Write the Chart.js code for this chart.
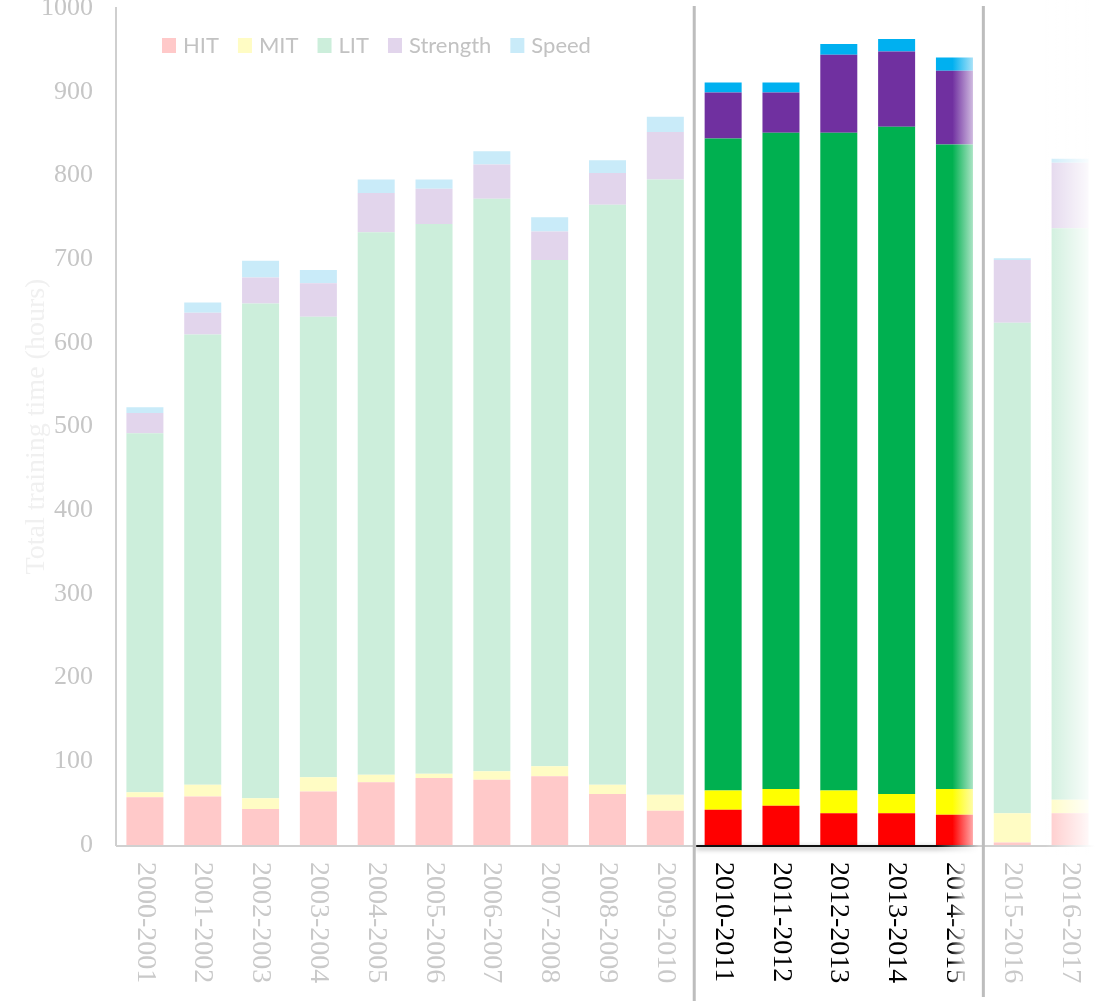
<!DOCTYPE html>
<html>
<head>
<meta charset="utf-8">
<script src="https://cdn.jsdelivr.net/npm/chart.js@4.4.1/dist/chart.umd.min.js"></script>
<style>
  html, body { margin: 0; padding: 0; background: #ffffff; }
  #c { display: block; }
</style>
</head>
<body>
<canvas id="c" width="1101" height="1001"></canvas>
<script>
// Training seasons on the x axis
const seasons = ['2000-2001','2001-2002','2002-2003','2003-2004','2004-2005','2005-2006',
  '2006-2007','2007-2008','2008-2009','2009-2010','2010-2011','2011-2012','2012-2013',
  '2013-2014','2014-2015','2015-2016','2016-2017'];

// Hours per season, by training type
const hit      = [57, 58, 43, 64, 75, 80, 78, 82, 61, 41, 42, 47, 38, 38, 36,  3, 38];
const mit      = [ 6, 14, 13, 17,  9,  5, 10, 12, 11, 19, 23, 20, 27, 23, 31, 35, 16];
const lit      = [429,538,591,550,648,657,684,605,693,735,779,784,786,797,770,586,683];
const strength = [24, 26, 31, 40, 47, 42, 41, 34, 38, 57, 55, 48, 93, 90, 88, 75, 78];
const speed    = [ 7, 12, 20, 16, 16, 11, 16, 17, 15, 18, 12, 12, 13, 15, 16,  2,  5];

const yTicks = [0, 100, 200, 300, 400, 500, 600, 700, 800, 900, 1000];

const seriesNames  = ['HIT', 'MIT', 'LIT', 'Strength', 'Speed'];
const seriesValues = [hit, mit, lit, strength, speed];
const strongColors = ['#FF0000', '#FFFF00', '#00B050', '#7030A0', '#00B0F0'];
const paleColors   = ['#FFC9C9', '#FFFCC4', '#CCEEDB', '#E2D5EC', '#C9EBF9'];

// Seasons shown in full colour (2010-2011 .. 2014-2015)
const focusFrom = 10, focusTo = 14;
const BAR_PCT = 0.64;

function fillFor(k) {
  return (c) => {
    const i = c.dataIndex;
    if (i === undefined) return strongColors[k];
    if (i < focusFrom || i > focusTo) return paleColors[k];
    if (i === focusTo) {
      const xs = c.chart.scales.x;
      if (!xs || !isFinite(xs.width) || xs.width <= 0) return strongColors[k];
      const step = xs.width / seasons.length;
      const cx = xs.getPixelForValue(i);
      const g = c.chart.ctx.createLinearGradient(cx - 2, 0, cx + step * BAR_PCT / 2 + 4, 0);
      g.addColorStop(0, strongColors[k]);
      g.addColorStop(1, paleColors[k]);
      return g;
    }
    return strongColors[k];
  };
}

const overlay = {
  id: 'overlay',
  afterDatasetsDraw(chart) {
    const { ctx, chartArea: a, scales: { x } } = chart;
    const step = x.width / seasons.length;
    const sepL = x.getPixelForValue(focusFrom) - step / 2;
    const sepR = x.getPixelForValue(focusTo) + step / 2;
    const focusEnd = x.getPixelForValue(focusTo) + step * BAR_PCT / 2;
    ctx.save();

    // category axis line
    ctx.strokeStyle = '#D0D0D0';
    ctx.lineWidth = 2;
    ctx.beginPath();
    ctx.moveTo(a.left, a.bottom + 1);
    ctx.lineTo(a.right, a.bottom + 1);
    ctx.stroke();

    // dark axis under the highlighted seasons, with a soft shadow
    const axG = ctx.createLinearGradient(sepL, 0, focusEnd + 6, 0);
    axG.addColorStop(0, '#111');
    axG.addColorStop(0.85, '#111');
    axG.addColorStop(1, 'rgba(17,17,17,0)');
    ctx.save();
    ctx.shadowColor = 'rgba(0,0,0,0.45)';
    ctx.shadowBlur = 5;
    ctx.shadowOffsetY = 2;
    ctx.strokeStyle = axG;
    ctx.lineWidth = 2;
    ctx.beginPath();
    ctx.moveTo(sepL + 2, a.bottom + 1);
    ctx.lineTo(focusEnd + 6, a.bottom + 1);
    ctx.stroke();
    ctx.restore();

    // white fade towards the right edge
    const fade = ctx.createLinearGradient(1045, 0, 1095, 0);
    fade.addColorStop(0, 'rgba(255,255,255,0)');
    fade.addColorStop(1, 'rgba(255,255,255,1)');
    ctx.fillStyle = fade;
    ctx.fillRect(1045, 0, chart.width - 1045, a.bottom + 10);

    // separators around the highlighted seasons
    ctx.strokeStyle = '#BDBDBD';
    ctx.lineWidth = 3;
    ctx.beginPath();
    ctx.moveTo(sepL, 6);
    ctx.lineTo(sepL, chart.height);
    ctx.moveTo(sepR, 6);
    ctx.lineTo(sepR, chart.height - 4);
    ctx.stroke();

    // rotated season labels
    ctx.font = '28px "Liberation Serif"';
    ctx.textAlign = 'left';
    ctx.textBaseline = 'middle';
    seasons.forEach((s, i) => {
      const cx = x.getPixelForValue(i);
      ctx.save();
      ctx.translate(cx, a.bottom + 17);
      ctx.rotate(Math.PI / 2);
      if (i >= focusFrom && i <= focusTo) {
        if (i === focusTo) {
          const tg = ctx.createLinearGradient(0, 4, 0, -10);
          tg.addColorStop(0, '#000');
          tg.addColorStop(1, '#C9C9C9');
          ctx.fillStyle = tg;
        } else {
          ctx.fillStyle = '#000';
        }
      } else {
        ctx.fillStyle = '#C9C9C9';
      }
      ctx.fillText(s, 0, 0);
      ctx.restore();
    });

    // legend
    ctx.font = '22px Lato';
    ctx.textBaseline = 'middle';
    ctx.textAlign = 'left';
    let lx = 162;
    const ly = 45;
    chart.data.datasets.forEach((ds, k) => {
      ctx.fillStyle = paleColors[k];
      ctx.fillRect(lx, ly - 7, 14, 15);
      lx += 21;
      ctx.fillStyle = '#C2C2C2';
      ctx.fillText(ds.label, lx, ly + 1);
      lx += ctx.measureText(ds.label).width + 19;
    });

    ctx.restore();
  }
};

new Chart(document.getElementById('c'), {
  type: 'bar',
  data: {
    labels: seasons,
    datasets: seriesNames.map((name, k) => ({
      label: name,
      data: seriesValues[k],
      backgroundColor: fillFor(k),
      borderWidth: 0,
      barPercentage: BAR_PCT,
      categoryPercentage: 1
    }))
  },
  options: {
    responsive: false,
    animation: false,
    devicePixelRatio: 1,
    layout: { padding: { top: 8, right: 2, left: 0, bottom: 0 } },
    plugins: { legend: { display: false }, tooltip: { enabled: false } },
    scales: {
      x: {
        stacked: true,
        grid: { display: false, drawTicks: false },
        border: { display: false },
        ticks: { display: false },
        afterFit: (s) => { s.height = 156; s.paddingLeft = 0; s.paddingRight = 0; }
      },
      y: {
        stacked: true,
        min: 0,
        max: 1000,
        afterBuildTicks: (s) => { s.ticks = yTicks.map(v => ({ value: v })); },
        grid: { display: false, drawTicks: false },
        border: { display: true, color: '#CFCFCF', width: 2 },
        ticks: {
          padding: 23,
          color: '#C6C6C6',
          font: { family: 'Liberation Serif', size: 26 },
          callback: (v) => String(v)
        },
        title: {
          display: true,
          text: 'Total training time (hours)',
          color: '#F0F0F0',
          font: { family: 'Liberation Serif', size: 28 },
          padding: { top: 20, bottom: 0 }
        },
        afterFit: (s) => { s.width = 116; s.paddingTop = 0; s.paddingBottom = 0; }
      }
    }
  },
  plugins: [overlay]
});
</script>
</body>
</html>
